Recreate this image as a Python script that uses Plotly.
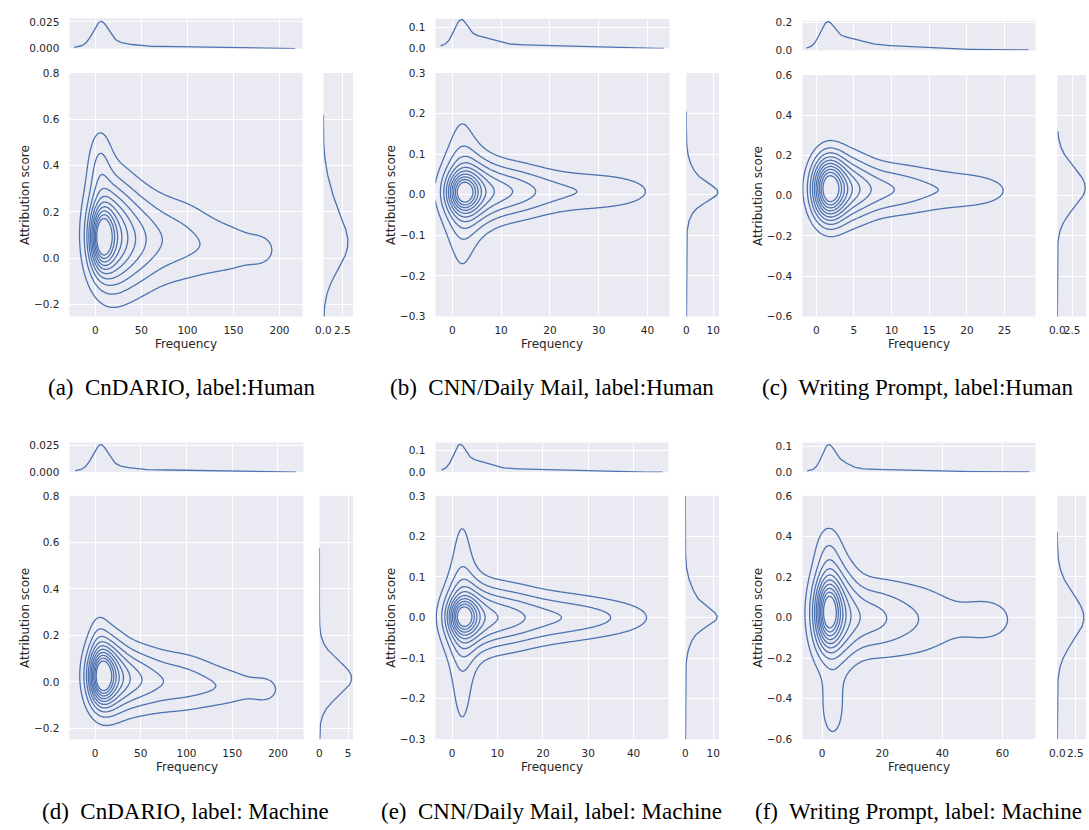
import numpy as np
import plotly.graph_objects as go

BLUE = '#4C72B0'

# ---------------- data ----------------
# joint density components: [amplitude, x-centre, y-centre, x-spread, y-spread]
# marginal KDE components:  [amplitude, centre, spread]

A_CAPTION = "(a)\u00a0 CnDARIO, label:Human"
A_XTICKS = [0, 50, 100, 150, 200]
A_XTICKLABELS = ['0', '50', '100', '150', '200']
A_YTICKS = [-0.2, 0.0, 0.2, 0.4, 0.6, 0.8]
A_YTICKLABELS = ['\u22120.2', '0.0', '0.2', '0.4', '0.6', '0.8']
A_TOPTICKS = [0.0, 0.025]
A_TOPTICKLABELS = ['0.000', '0.025']
A_RIGHTTICKS = [0.0, 2.5]
A_RIGHTTICKLABELS = ['0.0', '2.5']
A_JOINT = [[0.55, 7, 0.09, 8, 0.085], [0.30, 14, 0.09, 14, 0.14], [0.25, 35, 0.08, 22, 0.15],
           [0.19, 80, 0.08, 35, 0.13], [0.10, 150, 0.04, 30, 0.09], [0.06, 182, 0.035, 12, 0.05],
           [0.13, 5, 0.40, 9, 0.12], [0.12, 15, 0.15, 20, 0.20]]
A_LEVEL_RATIO = 13.0
A_XKDE = [[0.020, 6, 8], [0.005, 15, 20], [0.002, 80, 55]]
A_XSUPPORT = [-23, 217]
A_YKDE = [[3.1, 0.06, 0.11], [0.8, 0.26, 0.10]]
A_YSUPPORT = [-0.3, 0.62]

B_CAPTION = "(b)\u00a0 CNN/Daily Mail, label:Human"
B_XTICKS = [0, 10, 20, 30, 40]
B_XTICKLABELS = ['0', '10', '20', '30', '40']
B_YTICKS = [-0.3, -0.2, -0.1, 0.0, 0.1, 0.2, 0.3]
B_YTICKLABELS = ['\u22120.3', '\u22120.2', '\u22120.1', '0.0', '0.1', '0.2', '0.3']
B_TOPTICKS = [0.0, 0.1]
B_TOPTICKLABELS = ['0.0', '0.1']
B_RIGHTTICKS = [0, 10]
B_RIGHTTICKLABELS = ['0', '10']
B_JOINT = [[0.50, 2.2, 0.006, 2.0, 0.03], [0.30, 3.5, 0.006, 3.5, 0.065], [0.25, 9, 0.008, 6, 0.05],
           [0.16, 17, 0.008, 9, 0.04], [0.12, 33, 0.008, 8, 0.035], [0.15, 2.0, 0.0, 2.3, 0.16]]
B_LEVEL_RATIO = 12.0
B_XKDE = [[0.095, 1.7, 1.3], [0.05, 4.5, 3.5], [0.016, 14, 10]]
B_XSUPPORT = [-2.4, 43.3]
B_YKDE = [[6.5, 0.005, 0.02], [5.3, 0.012, 0.042]]
B_YSUPPORT = [-0.35, 0.205]

C_CAPTION = "(c)\u00a0 Writing Prompt, label:Human"
C_XTICKS = [0, 5, 10, 15, 20, 25]
C_XTICKLABELS = ['0', '5', '10', '15', '20', '25']
C_YTICKS = [-0.6, -0.4, -0.2, 0.0, 0.2, 0.4, 0.6]
C_YTICKLABELS = ['\u22120.6', '\u22120.4', '\u22120.2', '0.0', '0.2', '0.4', '0.6']
C_TOPTICKS = [0.0, 0.2]
C_TOPTICKLABELS = ['0.0', '0.2']
C_RIGHTTICKS = [0.0, 2.5]
C_RIGHTTICKLABELS = ['0.0', '2.5']
C_JOINT = [[0.60, 1.6, 0.036, 1.4, 0.105], [0.30, 3.5, 0.035, 2.5, 0.115], [0.17, 8, 0.03, 4, 0.09],
           [0.11, 15, 0.03, 5, 0.085], [0.08, 22, 0.025, 3.5, 0.06]]
C_LEVEL_RATIO = 12.0
C_XKDE = [[0.145, 1.45, 0.9], [0.07, 3.5, 2.2], [0.03, 8, 5], [0.006, 15, 12]]
C_XSUPPORT = [-1.3, 28.2]
C_YKDE = [[4.7, 0.04, 0.10]]
C_YSUPPORT = [-0.65, 0.32]

D_CAPTION = "(d)\u00a0 CnDARIO, label: Machine"
D_XTICKS = [0, 50, 100, 150, 200]
D_XTICKLABELS = ['0', '50', '100', '150', '200']
D_YTICKS = [-0.2, 0.0, 0.2, 0.4, 0.6, 0.8]
D_YTICKLABELS = ['\u22120.2', '0.0', '0.2', '0.4', '0.6', '0.8']
D_TOPTICKS = [0.0, 0.025]
D_TOPTICKLABELS = ['0.000', '0.025']
D_RIGHTTICKS = [0, 5]
D_RIGHTTICKLABELS = ['0', '5']
D_JOINT = [[0.55, 7, 0.025, 8.5, 0.075], [0.30, 14, 0.025, 14, 0.10], [0.25, 35, 0.015, 22, 0.095],
           [0.20, 85, 0.0, 35, 0.09], [0.10, 150, -0.025, 30, 0.06], [0.07, 188, -0.035, 12, 0.045],
           [0.10, 8, 0.06, 15, 0.15], [0.06, 4, 0.20, 7, 0.07]]
D_LEVEL_RATIO = 13.0
D_XKDE = [[0.0205, 5.8, 8], [0.005, 15, 20], [0.002, 80, 55]]
D_XSUPPORT = [-21.7, 220]
D_YKDE = [[5.6, 0.015, 0.075]]
D_YSUPPORT = [-0.3, 0.575]

E_CAPTION = "(e)\u00a0 CNN/Daily Mail, label: Machine"
E_XTICKS = [0, 10, 20, 30, 40]
E_XTICKLABELS = ['0', '10', '20', '30', '40']
E_YTICKS = [-0.3, -0.2, -0.1, 0.0, 0.1, 0.2, 0.3]
E_YTICKLABELS = ['\u22120.3', '\u22120.2', '\u22120.1', '0.0', '0.1', '0.2', '0.3']
E_TOPTICKS = [0.0, 0.1]
E_TOPTICKLABELS = ['0.0', '0.1']
E_RIGHTTICKS = [0, 10]
E_RIGHTTICKLABELS = ['0', '10']
E_JOINT = [[0.50, 2.3, 0.003, 2.0, 0.028], [0.30, 3.5, 0.0, 3.5, 0.06], [0.30, 9, 0.0, 6, 0.055],
           [0.24, 19, 0.0, 9, 0.045], [0.15, 34, 0.0, 9, 0.035], [0.12, 2.2, -0.01, 2.3, 0.17],
           [0.08, 2.2, -0.02, 2.0, 0.25]]
E_LEVEL_RATIO = 12.0
E_XKDE = [[0.09, 1.6, 1.3], [0.045, 4.5, 3.3], [0.015, 14, 10]]
E_XSUPPORT = [-2.4, 46.4]
E_YKDE = [[6.0, 0.0, 0.02], [5.5, 0.01, 0.05]]
E_YSUPPORT = [-0.35, 0.35]

F_CAPTION = "(f)\u00a0 Writing Prompt, label: Machine"
F_XTICKS = [0, 20, 40, 60]
F_XTICKLABELS = ['0', '20', '40', '60']
F_YTICKS = [-0.6, -0.4, -0.2, 0.0, 0.2, 0.4, 0.6]
F_YTICKLABELS = ['\u22120.6', '\u22120.4', '\u22120.2', '0.0', '0.2', '0.4', '0.6']
F_TOPTICKS = [0.0, 0.1]
F_TOPTICKLABELS = ['0.0', '0.1']
F_RIGHTTICKS = [0.0, 2.5]
F_RIGHTTICKLABELS = ['0.0', '2.5']
F_JOINT = [[0.55, 2.0, 0.03, 2.7, 0.11], [0.30, 4, 0.02, 5, 0.16], [0.20, 14, 0.0, 8, 0.12],
           [0.15, 30, -0.01, 12, 0.14], [0.10, 56, -0.01, 8, 0.10], [0.12, 3.5, -0.45, 3, 0.12],
           [0.08, 3, 0.05, 5, 0.25], [0.09, 2, 0.33, 3, 0.10]]
F_LEVEL_RATIO = 12.0
F_XKDE = [[0.075, 1.9, 2], [0.035, 5, 3.5], [0.01, 12, 12], [0.002, 35, 25]]
F_XSUPPORT = [-5, 69]
F_YKDE = [[3.7, 0.0, 0.115]]
F_YSUPPORT = [-0.65, 0.42]

# ---------------- layout (pixel boxes and axis ranges) ----------------
W, H = 1089, 830
LAYOUT = [
    dict(mx=(62, 297), my=(68, 315), ty=(12.5, 43.3), rx=(318, 348),
         xr=(-28, 225), yr=(-0.251, 0.8), tr=(0, 0.0283), rr=(0, 3.9), cap=(175, 387)),
    dict(mx=(431, 667), my=(68, 315), ty=(13, 43), rx=(684, 717),
         xr=(-3.45, 44.5), yr=(-0.3, 0.3), tr=(0, 0.143), rr=(0, 12.2), cap=(549, 387)),
    dict(mx=(801, 1036), my=(70, 315), ty=(15, 45), rx=(1058, 1087),
         xr=(-1.84, 29.1), yr=(-0.6, 0.6), tr=(0, 0.214), rr=(0, 4.83), cap=(918, 387)),
    dict(mx=(62, 298), my=(497, 744), ty=(443, 473), rx=(314, 348),
         xr=(-28, 228), yr=(-0.247, 0.8), tr=(0, 0.0278), rr=(0, 5.86), cap=(179, 817)),
    dict(mx=(431, 666), my=(497, 744), ty=(443, 473), rx=(683, 717),
         xr=(-3.7, 47.7), yr=(-0.3, 0.3), tr=(0, 0.136), rr=(0, 12.1), cap=(548, 817)),
    dict(mx=(801, 1036), my=(497, 744), ty=(443, 473), rx=(1058, 1087),
         xr=(-6.6, 71), yr=(-0.6, 0.6), tr=(0, 0.115), rr=(0, 4.0), cap=(918, 817)),
]

DATA = [
    (A_JOINT, A_LEVEL_RATIO, A_XKDE, A_XSUPPORT, A_YKDE, A_YSUPPORT, A_XTICKS, A_XTICKLABELS,
     A_YTICKS, A_YTICKLABELS, A_TOPTICKS, A_TOPTICKLABELS, A_RIGHTTICKS, A_RIGHTTICKLABELS, A_CAPTION),
    (B_JOINT, B_LEVEL_RATIO, B_XKDE, B_XSUPPORT, B_YKDE, B_YSUPPORT, B_XTICKS, B_XTICKLABELS,
     B_YTICKS, B_YTICKLABELS, B_TOPTICKS, B_TOPTICKLABELS, B_RIGHTTICKS, B_RIGHTTICKLABELS, B_CAPTION),
    (C_JOINT, C_LEVEL_RATIO, C_XKDE, C_XSUPPORT, C_YKDE, C_YSUPPORT, C_XTICKS, C_XTICKLABELS,
     C_YTICKS, C_YTICKLABELS, C_TOPTICKS, C_TOPTICKLABELS, C_RIGHTTICKS, C_RIGHTTICKLABELS, C_CAPTION),
    (D_JOINT, D_LEVEL_RATIO, D_XKDE, D_XSUPPORT, D_YKDE, D_YSUPPORT, D_XTICKS, D_XTICKLABELS,
     D_YTICKS, D_YTICKLABELS, D_TOPTICKS, D_TOPTICKLABELS, D_RIGHTTICKS, D_RIGHTTICKLABELS, D_CAPTION),
    (E_JOINT, E_LEVEL_RATIO, E_XKDE, E_XSUPPORT, E_YKDE, E_YSUPPORT, E_XTICKS, E_XTICKLABELS,
     E_YTICKS, E_YTICKLABELS, E_TOPTICKS, E_TOPTICKLABELS, E_RIGHTTICKS, E_RIGHTTICKLABELS, E_CAPTION),
    (F_JOINT, F_LEVEL_RATIO, F_XKDE, F_XSUPPORT, F_YKDE, F_YSUPPORT, F_XTICKS, F_XTICKLABELS,
     F_YTICKS, F_YTICKLABELS, F_TOPTICKS, F_TOPTICKLABELS, F_RIGHTTICKS, F_RIGHTTICKLABELS, F_CAPTION),
]


def xd(a, b):
    return [a / W, b / W]


def yd(a, b):
    return [1 - b / H, 1 - a / H]


def joint_density(comps, X, Y):
    Z = np.zeros_like(X)
    for a, mx, my, sx, sy in comps:
        Z += a * np.exp(-0.5 * ((X - mx) / sx) ** 2 - 0.5 * ((Y - my) / sy) ** 2)
    return Z


def kde1(comps, t):
    v = np.zeros_like(t)
    for a, m, s in comps:
        v += a * np.exp(-0.5 * ((t - m) / s) ** 2)
    return v


TICKFONT = dict(family='DejaVu Sans', size=10.5, color='#262626')
common = dict(showgrid=True, gridcolor='white', gridwidth=1, zeroline=False, showline=False,
              tickfont=TICKFONT, ticks='outside', tickcolor='rgba(0,0,0,0)', fixedrange=True)

fig = go.Figure()
layout = dict(width=W, height=H, margin=dict(l=0, r=0, t=0, b=0), paper_bgcolor='white',
              plot_bgcolor='#EAEAF2', showlegend=False)
annotations = []


def axname(kind, n):
    return kind + 'axis' + ('' if n == 1 else str(n))


def ref(kind, n):
    return kind + ('' if n == 1 else str(n))


for i, (L, D) in enumerate(zip(LAYOUT, DATA)):
    (joint, ratio, xk, xsup, yk, ysup, xt, xtl, yt, ytl, tt, ttl, rt, rtl, cap) = D
    m, t, r = 3 * i + 1, 3 * i + 2, 3 * i + 3

    # main joint KDE contours
    gx = np.linspace(L['xr'][0], L['xr'][1], 220)
    gy = np.linspace(L['yr'][0], L['yr'][1], 220)
    X, Y = np.meshgrid(gx, gy)
    Z = joint_density(joint, X, Y)
    Z = np.round(Z / Z.max(), 4)
    step = 1.0 / ratio
    fig.add_trace(go.Contour(
        x=np.round(gx, 5), y=np.round(gy, 5), z=Z, xaxis=ref('x', m), yaxis=ref('y', m),
        autocontour=False,
        contours=dict(coloring='lines', start=step, end=10 * step + 1e-6, size=step, showlabels=False),
        colorscale=[[0, BLUE], [1, BLUE]], showscale=False, line=dict(width=1.3, smoothing=1),
        hoverinfo='skip'))

    # top marginal
    tx = np.linspace(xsup[0], xsup[1], 300)
    fig.add_trace(go.Scatter(x=tx, y=kde1(xk, tx), mode='lines', line=dict(color=BLUE, width=1.3),
                             xaxis=ref('x', t), yaxis=ref('y', t), hoverinfo='skip'))
    # right marginal
    ry = np.linspace(ysup[0], ysup[1], 300)
    fig.add_trace(go.Scatter(x=kde1(yk, ry), y=ry, mode='lines', line=dict(color=BLUE, width=1.3),
                             xaxis=ref('x', r), yaxis=ref('y', r), hoverinfo='skip'))

    layout[axname('x', m)] = dict(common, domain=xd(*L['mx']), range=list(L['xr']), anchor=ref('y', m),
                                  tickvals=xt, ticktext=xtl, ticklen=4, tickangle=0)
    layout[axname('y', m)] = dict(common, domain=yd(*L['my']), range=list(L['yr']), anchor=ref('x', m),
                                  tickvals=yt, ticktext=ytl, ticklen=7)
    layout[axname('x', t)] = dict(common, domain=xd(*L['mx']), range=list(L['xr']), anchor=ref('y', t),
                                  tickvals=xt, showticklabels=False, ticks='')
    layout[axname('y', t)] = dict(common, domain=yd(*L['ty']), range=list(L['tr']), anchor=ref('x', t),
                                  tickvals=tt, ticktext=ttl, ticklen=7)
    layout[axname('x', r)] = dict(common, domain=xd(*L['rx']), range=list(L['rr']), anchor=ref('y', r),
                                  tickvals=rt, ticktext=rtl, ticklen=4, tickangle=0)
    layout[axname('y', r)] = dict(common, domain=yd(*L['my']), range=list(L['yr']), anchor=ref('x', r),
                                  tickvals=yt, showticklabels=False, ticks='')

    cx = (L['mx'][0] + L['mx'][1]) / 2
    cy = (L['my'][0] + L['my'][1]) / 2
    annotations.append(dict(text='Frequency', x=cx / W, y=1 - (L['my'][1] + 28) / H, xref='paper',
                            yref='paper', xanchor='center', yanchor='middle', showarrow=False,
                            font=dict(family='DejaVu Sans', size=12, color='#262626')))
    annotations.append(dict(text='Attribution score', x=(L['mx'][0] - 45.5) / W, y=1 - cy / H,
                            xref='paper', yref='paper', xanchor='center', yanchor='middle',
                            showarrow=False, textangle=-90,
                            font=dict(family='DejaVu Sans', size=12, color='#262626')))
    annotations.append(dict(text=cap, x=L['cap'][0] / W, y=1 - L['cap'][1] / H, xref='paper',
                            yref='paper', xanchor='center', yanchor='middle', showarrow=False,
                            font=dict(family='Liberation Serif', size=23, color='black')))

layout['annotations'] = annotations
fig.update_layout(**layout)
fig.write_html('out.html', config={'displayModeBar': False},
               post_script="document.body.style.margin='0';document.body.style.overflow='hidden';")
